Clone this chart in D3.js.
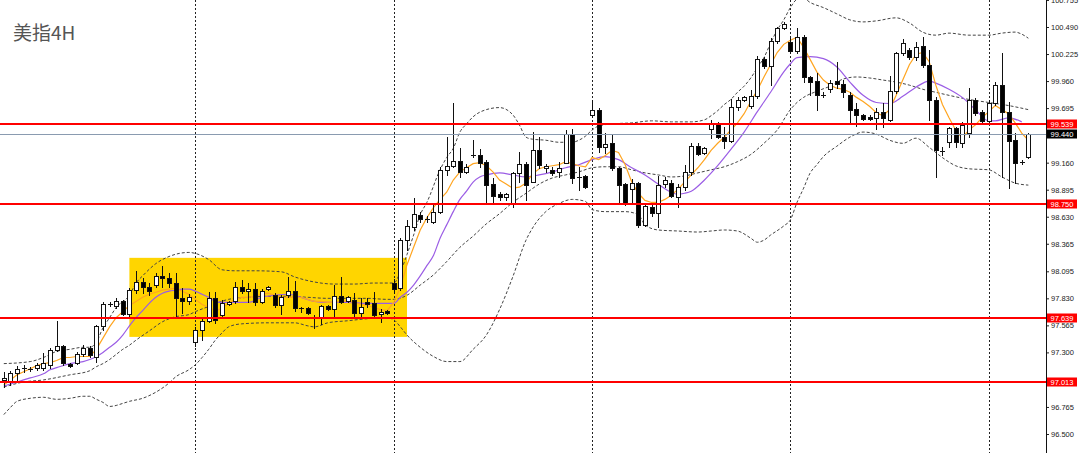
<!DOCTYPE html>
<html>
<head>
<meta charset="utf-8">
<script src="https://cdn.jsdelivr.net/npm/d3@7"></script>
<style>
body { margin: 0; background: #fff; }
svg { display: block; }
</style>
</head>
<body>
<svg id="chart" width="1080" height="453"></svg>
<script>
'use strict'

// 4H candles, bar 0 = leftmost visible bar
const opens = [97.031,97.011,97.100,97.149,97.139,97.149,97.149,97.178,97.325,97.364,97.188,97.198,97.286,97.345,97.256,97.560,97.776,97.756,97.805,97.678,
97.913,97.991,97.942,97.962,98.050,98.031,97.982,97.835,97.805,97.403,97.521,97.609,97.835,97.668,97.776,97.805,97.942,97.903,97.923,97.795,
97.923,97.864,97.766,97.864,97.903,97.737,97.737,97.639,97.639,97.756,97.727,97.854,97.805,97.815,97.688,97.795,97.786,97.678,97.707,97.982,
97.933,98.403,98.530,98.648,98.609,98.579,98.677,99.089,99.128,99.177,99.069,99.236,99.236,99.167,98.952,98.854,98.824,98.766,99.060,99.148,
98.971,99.285,99.109,99.089,99.069,99.158,99.442,99.020,99.030,99.628,99.677,99.314,99.354,99.109,98.952,98.903,98.962,98.550,98.726,98.668,
98.952,98.962,98.824,98.922,99.069,99.324,99.256,99.491,99.550,99.412,99.373,99.706,99.775,99.716,99.814,100.177,100.108,100.353,100.481,100.343,
100.255,100.392,100.000,99.961,99.824,99.883,99.961,99.932,99.824,99.687,99.628,99.608,99.599,99.657,99.579,99.863,100.236,100.265,100.196,100.304,
100.118,99.775,99.275,99.363,99.501,99.354,99.452,99.775,99.657,99.569,99.746,99.922,99.657,99.383,99.167,99.216]
const highs = [97.109,97.119,97.168,97.178,97.158,97.198,97.296,97.345,97.612,97.374,97.198,97.305,97.374,97.364,97.570,97.795,97.795,97.835,97.815,97.933,
98.099,98.031,97.982,98.080,98.148,98.080,98.080,97.933,97.874,97.550,97.639,97.893,97.893,97.815,97.805,97.991,98.011,97.982,97.982,97.923,
97.952,97.884,97.864,98.040,98.001,97.746,97.746,97.668,97.766,97.766,97.962,98.040,97.854,97.884,97.835,97.835,97.893,97.727,97.717,98.021,
98.423,98.599,98.815,98.677,98.638,98.766,99.118,99.412,99.746,99.305,99.148,99.383,99.295,99.187,99.011,98.873,98.864,99.069,99.265,99.167,
99.461,99.412,99.148,99.118,99.167,99.481,99.491,99.118,99.040,99.775,99.697,99.452,99.432,99.118,98.962,99.001,98.971,98.766,98.746,99.030,
99.020,98.991,98.952,99.138,99.354,99.354,99.314,99.579,99.559,99.510,99.785,99.804,99.814,99.873,100.206,100.196,100.383,100.490,100.539,100.383,
100.481,100.412,100.010,100.040,99.853,99.971,100.147,99.971,99.853,99.746,99.638,99.628,99.697,99.746,100.010,100.245,100.373,100.285,100.343,100.392,
100.265,99.804,99.314,99.510,99.510,99.559,99.893,99.795,99.677,99.775,99.951,100.236,99.755,99.452,99.187,99.452]
const lows = [96.962,96.982,97.011,97.109,97.119,97.129,97.129,97.149,97.315,97.178,97.158,97.188,97.266,97.256,97.207,97.521,97.756,97.737,97.668,97.648,
97.884,97.884,97.864,97.942,97.942,97.942,97.648,97.688,97.776,97.364,97.423,97.599,97.590,97.639,97.766,97.786,97.884,97.795,97.766,97.786,
97.913,97.746,97.678,97.844,97.707,97.697,97.678,97.541,97.580,97.717,97.648,97.786,97.795,97.639,97.639,97.746,97.639,97.599,97.678,97.884,
97.913,98.305,98.501,98.579,98.579,98.570,98.668,99.040,99.118,99.020,99.060,99.216,99.118,98.766,98.766,98.795,98.795,98.726,98.971,98.795,
98.971,99.109,99.069,99.040,99.020,99.158,98.962,98.893,98.913,99.608,99.265,99.256,99.089,98.766,98.746,98.766,98.530,98.540,98.638,98.530,
98.922,98.824,98.726,98.893,99.040,99.236,99.246,99.403,99.403,99.305,99.363,99.677,99.765,99.697,99.795,100.089,99.922,100.334,100.471,100.236,
100.236,99.951,99.824,99.677,99.804,99.853,99.893,99.804,99.540,99.520,99.579,99.579,99.491,99.510,99.569,99.844,100.216,100.177,100.167,100.098,
99.579,99.020,99.236,99.314,99.314,99.314,99.412,99.628,99.550,99.550,99.726,99.020,98.913,98.962,99.148,99.207]
const closes = [97.051,97.100,97.139,97.149,97.139,97.178,97.198,97.325,97.364,97.198,97.168,97.286,97.345,97.276,97.560,97.776,97.776,97.805,97.678,97.913,
97.991,97.942,97.903,98.050,98.031,97.982,97.835,97.805,97.844,97.521,97.609,97.835,97.619,97.786,97.795,97.942,97.903,97.923,97.795,97.903,
97.942,97.766,97.844,97.903,97.737,97.737,97.688,97.639,97.756,97.727,97.854,97.795,97.844,97.688,97.746,97.776,97.668,97.697,97.688,97.923,
98.403,98.540,98.658,98.609,98.609,98.677,99.089,99.128,99.177,99.069,99.118,99.236,99.158,98.942,98.834,98.824,98.854,99.060,99.148,98.942,
99.285,99.138,99.128,99.060,99.109,99.442,99.011,99.020,98.922,99.677,99.314,99.344,99.109,98.942,98.766,98.962,98.550,98.736,98.668,98.942,
98.991,98.834,98.922,99.069,99.324,99.246,99.305,99.550,99.412,99.373,99.706,99.775,99.804,99.814,100.177,100.108,100.353,100.481,100.520,100.255,
100.392,100.000,99.951,99.824,99.824,99.942,99.932,99.853,99.677,99.628,99.589,99.589,99.657,99.599,99.863,100.236,100.334,100.196,100.294,100.118,
99.775,99.285,99.275,99.501,99.363,99.530,99.775,99.648,99.569,99.746,99.922,99.657,99.373,99.158,99.167,99.440]

// fast moving average (orange), one value per bar
const maFast = [96.98,97.03,97.08,97.11,97.14,97.17,97.19,97.20,97.22,97.25,97.25,97.26,97.26,97.26,97.33,97.44,97.55,97.64,97.70,97.76,
97.80,97.84,97.87,97.89,97.91,97.92,97.93,97.90,97.87,97.82,97.77,97.74,97.71,97.73,97.78,97.82,97.84,97.84,97.85,97.87,
97.88,97.86,97.84,97.84,97.84,97.84,97.82,97.80,97.80,97.79,97.79,97.80,97.80,97.79,97.77,97.76,97.74,97.72,97.71,97.79,
97.94,98.16,98.33,98.50,98.62,98.72,98.80,98.87,98.99,99.07,99.11,99.15,99.16,99.13,99.07,98.99,98.95,98.91,98.92,98.96,
99.05,99.10,99.12,99.13,99.14,99.17,99.15,99.13,99.12,99.21,99.19,99.23,99.28,99.26,99.14,98.97,98.86,98.79,98.77,98.77,
98.80,98.84,98.90,98.97,99.04,99.11,99.19,99.28,99.35,99.41,99.48,99.55,99.64,99.76,99.87,100.00,100.12,100.24,100.32,100.36,
100.39,100.29,100.17,100.05,99.97,99.92,99.89,99.88,99.85,99.80,99.76,99.71,99.65,99.62,99.68,99.82,99.97,100.12,100.22,100.24,
100.15,99.92,99.73,99.60,99.48,99.40,99.48,99.53,99.60,99.66,99.72,99.68,99.64,99.55,99.45,99.38]

// slow moving average (purple), read at [bar, price]
const maSlow = [[0,96.97],[2,97.01],[4,97.05],[6,97.09],[7,97.13],[8,97.15],[10,97.19],[12,97.21],[13,97.23],[14,97.26],[15,97.30],[16,97.35],
[17,97.40],[18,97.47],[19,97.56],[20,97.64],[21,97.71],[22,97.78],[23,97.84],[24,97.88],[25,97.90],[26,97.91],[27,97.92],[28,97.92],[29,97.90],
[30,97.87],[31,97.84],[32,97.80],[33,97.79],[35,97.79],[37,97.79],[39,97.84],[41,97.86],[43,97.87],[45,97.84],[47,97.80],[49,97.79],[52,97.79],
[55,97.78],[58,97.78],[59,97.78],[60,97.84],[61,97.89],[62,97.96],[63,98.05],[64,98.15],[65,98.25],[66,98.42],[67,98.55],[68,98.68],[69,98.80],
[70,98.88],[71,98.97],[72,99.02],[73,99.04],[75,99.06],[77,99.04],[79,99.02],[81,99.04],[83,99.07],[85,99.11],[87,99.14],[89,99.19],[91,99.22],
[93,99.19],[95,99.11],[97,99.04],[99,98.95],[101,98.87],[102,98.85],[103,98.86],[104,98.88],[106,98.99],[108,99.13],[110,99.29],[112,99.46],
[114,99.66],[116,99.85],[118,100.05],[119,100.13],[120,100.19],[122,100.20],[124,100.18],[126,100.10],[128,99.95],[130,99.82],[132,99.75],
[134,99.74],[136,99.81],[138,99.90],[140,99.96],[141,99.94],[143,99.88],[145,99.80],[147,99.68],[149,99.57],[150,99.57],[152,99.60],[154,99.56]]

// Bollinger bands, read at [bar, price]
const bbUpper = [[0,97.19],[4,97.21],[6,97.25],[8,97.31],[10,97.33],[12,97.35],[13,97.35],[14,97.40],[15,97.54],[16,97.64],[17,97.74],[19,97.86],
[20,97.98],[21,98.05],[23,98.17],[25,98.24],[28,98.28],[29,98.27],[31,98.21],[33,98.11],[35,98.10],[38,98.10],[42,98.09],[44,98.04],[47,97.99],
[50,97.97],[53,97.97],[56,97.98],[59,97.98],[60,98.09],[61,98.26],[62,98.45],[63,98.65],[64,98.77],[66,99.09],[67,99.21],[68,99.30],[69,99.46],
[70,99.54],[71,99.61],[73,99.68],[75,99.70],[77,99.63],[78,99.53],[79,99.41],[80,99.39],[82,99.38],[84,99.36],[86,99.36],[87,99.38],[88,99.42],
[89,99.48],[90,99.52],[92,99.54],[95,99.55],[98,99.57],[101,99.56],[104,99.56],[106,99.58],[107,99.62],[108,99.67],[109,99.73],[110,99.78],
[111,99.85],[112,99.91],[113,99.99],[114,100.09],[115,100.19],[116,100.33],[117,100.46],[118,100.56],[119,100.68],[120,100.76],[121,100.77],
[122,100.73],[124,100.68],[126,100.62],[128,100.56],[130,100.54],[132,100.55],[135,100.58],[137,100.53],[139,100.44],[141,100.41],[143,100.43],
[146,100.41],[149,100.41],[151,100.43],[153,100.44],[154,100.42],[155,100.38]]
const bbMiddle = [[0,96.96],[3,97.01],[6,97.03],[10,97.08],[13,97.12],[14,97.16],[15,97.19],[16,97.23],[17,97.28],[18,97.33],[19,97.37],[20,97.42],
[22,97.51],[24,97.60],[26,97.65],[28,97.67],[29,97.70],[31,97.75],[34,97.82],[37,97.84],[40,97.85],[43,97.85],[46,97.84],[49,97.83],[52,97.83],
[55,97.83],[58,97.82],[59,97.82],[61,97.86],[63,97.96],[65,98.06],[67,98.19],[69,98.33],[71,98.44],[73,98.56],[75,98.66],[77,98.77],[79,98.86],
[81,98.95],[83,99.01],[85,99.04],[87,99.07],[89,99.11],[91,99.12],[93,99.12],[95,99.09],[97,99.06],[99,99.04],[101,99.02],[103,99.03],[105,99.06],
[107,99.09],[109,99.12],[111,99.17],[113,99.24],[115,99.35],[117,99.48],[119,99.68],[120,99.75],[121,99.80],[123,99.86],[125,99.91],[127,99.98],
[129,100.00],[131,99.99],[133,99.97],[135,99.95],[137,99.92],[139,99.88],[141,99.85],[143,99.82],[146,99.78],[149,99.75],[152,99.72],[155,99.68]]
const bbLower = [[0,96.69],[1,96.76],[2,96.82],[4,96.85],[6,96.86],[8,96.84],[10,96.85],[12,96.87],[13,96.87],[14,96.84],[15,96.81],[16,96.77],
[17,96.78],[18,96.80],[19,96.82],[21,96.85],[23,96.91],[25,97.00],[26,97.06],[28,97.13],[29,97.18],[30,97.25],[31,97.33],[32,97.42],[33,97.49],
[34,97.55],[36,97.58],[40,97.59],[44,97.59],[46,97.56],[47,97.55],[49,97.59],[52,97.61],[55,97.63],[58,97.64],[59,97.62],[60,97.55],[61,97.47],
[63,97.35],[65,97.26],[67,97.21],[69,97.21],[71,97.33],[73,97.47],[75,97.72],[77,98.04],[79,98.40],[80,98.52],[82,98.68],[84,98.76],[86,98.80],
[88,98.78],[89,98.70],[91,98.68],[94,98.68],[96,98.65],[97,98.55],[99,98.50],[102,98.49],[105,98.48],[107,98.49],[109,98.50],[111,98.49],
[113,98.42],[114,98.38],[115,98.40],[116,98.45],[118,98.54],[119,98.60],[120,98.77],[121,98.91],[122,99.06],[123,99.14],[124,99.22],[126,99.32],
[128,99.41],[130,99.46],[132,99.44],[134,99.38],[136,99.35],[138,99.40],[140,99.31],[142,99.21],[144,99.13],[146,99.10],[149,99.09],[151,99.02],
[153,98.96],[155,98.94]]

const levels = [99.539, 98.750, 97.639, 97.013]
const bidPrice = 99.440
const weekStarts = [29, 59, 89, 119, 149]
const zoneBars = [19, 61]
const zonePrices = [97.452, 98.227]
const yTicks = [100.755, 100.490, 100.225, 99.960, 99.695, 99.160, 98.895, 98.630, 98.365, 98.095, 97.830, 97.565, 97.300, 96.765, 96.500]
const title = '美指4H'

const W = 1080, H = 453, axisX = 1046

const svg = d3.select('#chart')
const x = d3.scaleLinear().domain([0, opens.length - 1]).range([3.8, 1028.35])
const y = d3.scaleLinear().domain([96.5, 100.49]).range([434, 27])

svg.append('rect').attr('width', W).attr('height', H).attr('fill', '#fff')

svg.append('clipPath').attr('id', 'plot-clip')
	.append('rect').attr('x', 0).attr('y', 0).attr('width', axisX).attr('height', H)

let plot = svg.append('g').attr('clip-path', 'url(#plot-clip)')

// highlighted range
plot.append('rect')
	.attr('x', x(zoneBars[0]))
	.attr('y', y(zonePrices[1]))
	.attr('width', x(zoneBars[1]) - x(zoneBars[0]))
	.attr('height', y(zonePrices[0]) - y(zonePrices[1]))
	.attr('fill', '#ffd500')

// week separators
plot.selectAll('.sep').data(weekStarts).enter().append('line')
	.attr('class', 'sep')
	.attr('x1', d => Math.round(x(d)) + 0.5).attr('x2', d => Math.round(x(d)) + 0.5)
	.attr('y1', 0).attr('y2', H)
	.attr('stroke', '#222').attr('stroke-width', 1).attr('stroke-dasharray', '2,2')

let bandLine = d3.line().x(d => x(d[0])).y(d => y(d[1])).curve(d3.curveMonotoneX)

;[bbUpper, bbMiddle, bbLower].forEach(function(band){
	plot.append('path')
		.attr('d', bandLine(band))
		.attr('fill', 'none')
		.attr('stroke', '#444')
		.attr('stroke-width', 1)
		.attr('stroke-dasharray', '3,2')
})

plot.append('path')
	.attr('d', bandLine(maSlow))
	.attr('fill', 'none').attr('stroke', '#9b5de5').attr('stroke-width', 1.2)

plot.append('path')
	.attr('d', d3.line().x((d, i) => x(i)).y(d => y(d))(maFast))
	.attr('fill', 'none').attr('stroke', '#ffa520').attr('stroke-width', 1.2)

// candles
let candles = plot.selectAll('.candle').data(d3.range(opens.length)).enter().append('g').attr('class', 'candle')

candles.append('line')
	.attr('x1', i => Math.round(x(i)) + 0.5).attr('x2', i => Math.round(x(i)) + 0.5)
	.attr('y1', i => Math.round(y(highs[i]))).attr('y2', i => Math.round(y(lows[i])) + 1)
	.attr('stroke', '#111').attr('stroke-width', 1)

candles.each(function(i){
	let g = d3.select(this)
	let px = Math.round(x(i))
	let top = Math.round(y(Math.max(opens[i], closes[i]))) + 0.5
	let bot = Math.round(y(Math.min(opens[i], closes[i]))) + 0.5
	if (bot - top < 1){
		g.append('line')
			.attr('x1', px - 2).attr('x2', px + 3)
			.attr('y1', top).attr('y2', top)
			.attr('stroke', '#111').attr('stroke-width', 1)
	}
	else {
		g.append('rect')
			.attr('x', px - 1.5).attr('y', top)
			.attr('width', 4).attr('height', bot - top)
			.attr('fill', closes[i] > opens[i] ? '#fff' : '#000')
			.attr('stroke', '#111').attr('stroke-width', 1)
	}
})

// horizontal levels
plot.selectAll('.level').data(levels).enter().append('line')
	.attr('class', 'level')
	.attr('x1', 0).attr('x2', axisX)
	.attr('y1', d => Math.round(y(d))).attr('y2', d => Math.round(y(d)))
	.attr('stroke', '#ff0000').attr('stroke-width', 2)

plot.append('line')
	.attr('x1', 0).attr('x2', axisX)
	.attr('y1', Math.round(y(bidPrice)) + 0.5).attr('y2', Math.round(y(bidPrice)) + 0.5)
	.attr('stroke', '#8a9bb0').attr('stroke-width', 1)

// price axis
let axis = svg.append('g')
	.attr('transform', 'translate(' + axisX + ',0)')
	.call(d3.axisRight(y).tickValues(yTicks).tickFormat(d3.format('.3f')).tickSize(3).tickPadding(2))
axis.select('.domain').remove()
axis.selectAll('text')
	.style('font-family', '"Liberation Sans", Arial, sans-serif')
	.style('font-size', '7.5px')
	.attr('fill', '#222')
axis.selectAll('line').attr('stroke', '#222')

svg.append('line')
	.attr('x1', axisX + 0.5).attr('x2', axisX + 0.5).attr('y1', 0).attr('y2', H)
	.attr('stroke', '#111').attr('stroke-width', 1)

function priceTag(price, fill){
	let cy = Math.round(y(price))
	svg.append('rect')
		.attr('x', axisX + 1).attr('y', cy - 4.5)
		.attr('width', 30).attr('height', 9)
		.attr('fill', fill)
	svg.append('text')
		.attr('x', axisX + 4.5).attr('y', cy + 3)
		.text(d3.format('.3f')(price))
		.style('font-family', '"Liberation Sans", Arial, sans-serif')
		.style('font-size', '7.5px')
		.attr('fill', '#fff')
}
levels.forEach(function(l){ priceTag(l, '#ff0000') })
priceTag(bidPrice, '#000')

svg.append('text')
	.attr('x', 13).attr('y', 40)
	.text(title)
	.style('font-family', '"Noto Sans CJK SC", sans-serif')
	.style('font-size', '19px')
	.attr('fill', '#555')
</script>
</body>
</html>
